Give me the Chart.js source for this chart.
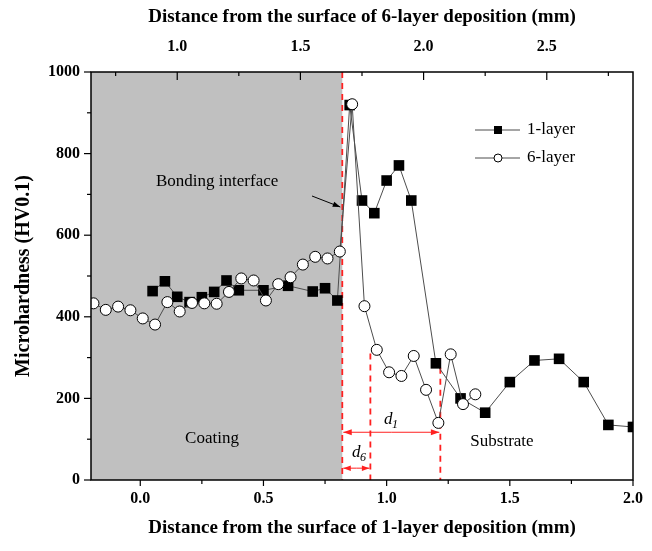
<!DOCTYPE html>
<html>
<head>
<meta charset="utf-8">
<script src="https://cdn.jsdelivr.net/npm/chart.js@4.4.0/dist/chart.umd.min.js"></script>
<style>
  html, body { margin: 0; padding: 0; background: #fff; }
</style>
</head>
<body>
<canvas id="grafico" width="652" height="551"></canvas>
<script>
// --- Datos ---
// 1 capa: distancia desde su superficie (eje inferior, mm) y microdureza
const dist1 = [0.05, 0.10, 0.15, 0.20, 0.25, 0.30, 0.35, 0.40, 0.50, 0.60, 0.70, 0.75, 0.80,
  0.85, 0.90, 0.95, 1.00, 1.05, 1.10, 1.20, 1.30, 1.40, 1.50, 1.60, 1.70, 1.80, 1.90, 2.00];
const hv1 = [463, 487, 449, 436, 448, 461, 489, 465, 465, 476, 462, 470, 440,
  919, 685, 654, 734, 771, 685, 286, 200, 165, 240, 293, 297, 240, 135, 130];

// 6 capas: distancia desde su superficie (eje superior, mm) y microdureza
const dist6 = [0.66, 0.71, 0.76, 0.81, 0.86, 0.91, 0.96, 1.01, 1.06, 1.11, 1.16, 1.21, 1.26, 1.31,
  1.36, 1.41, 1.46, 1.51, 1.56, 1.61, 1.66, 1.71, 1.76, 1.81, 1.86, 1.91, 1.96, 2.01, 2.06, 2.11,
  2.16, 2.21];
const hv6 = [433, 417, 425, 416, 396, 381, 436, 413, 434, 433, 432, 461, 494, 489,
  440, 480, 497, 528, 547, 543, 560, 921, 426, 319, 264, 255, 304, 221, 140, 308,
  186, 210];

const ticksInf = [0.0, 0.5, 1.0, 1.5, 2.0];
const ticksSup = [1.0, 1.5, 2.0, 2.5];
const ticksY = [0, 200, 400, 600, 800, 1000];

// Interfase y límites de d6 / d1 (eje inferior, mm)
const interfaz = 0.82;
const finD6 = 0.934;
const finD1 = 1.218;

const fuente = 'Liberation Serif';

function flecha(ctx, x0, y0, x1, y1, tam) {
  const ang = Math.atan2(y1 - y0, x1 - x0);
  ctx.beginPath();
  ctx.moveTo(x0, y0);
  ctx.lineTo(x1, y1);
  ctx.stroke();
  ctx.beginPath();
  ctx.moveTo(x1, y1);
  ctx.lineTo(x1 - tam * Math.cos(ang - 0.35), y1 - tam * Math.sin(ang - 0.35));
  ctx.lineTo(x1 - tam * Math.cos(ang + 0.35), y1 - tam * Math.sin(ang + 0.35));
  ctx.closePath();
  ctx.fill();
}

function textoD(ctx, x, y, sub) {
  ctx.font = 'italic 17px "' + fuente + '"';
  ctx.textAlign = 'left';
  ctx.textBaseline = 'alphabetic';
  ctx.fillText('d', x, y);
  ctx.font = 'italic 12px "' + fuente + '"';
  ctx.fillText(sub, x + 8, y + 4);
}

// --- Fondo gris, líneas rojas, marco, marcas, leyenda y textos ---
const decoracion = {
  id: 'decoracion',
  beforeDatasetsDraw(chart) {
    const { ctx, chartArea: a, scales: { x, y } } = chart;
    const xi = x.getPixelForValue(interfaz);
    const y0 = y.getPixelForValue(0);
    ctx.save();
    ctx.fillStyle = '#c0c0c0';
    ctx.fillRect(a.left, a.top, xi - a.left, a.bottom - a.top);

    ctx.strokeStyle = '#ff2020';
    ctx.lineWidth = 1.8;
    ctx.setLineDash([6, 5]);
    const verticales = [[interfaz, 1000], [finD6, 310], [finD1, 275]];
    verticales.forEach(([v, alto]) => {
      const px = x.getPixelForValue(v);
      ctx.beginPath();
      ctx.moveTo(px, y.getPixelForValue(alto));
      ctx.lineTo(px, y0);
      ctx.stroke();
    });
    ctx.setLineDash([]);

    // flechas d1 y d6
    ctx.fillStyle = '#ff2020';
    ctx.lineWidth = 1;
    const xd6 = x.getPixelForValue(finD6);
    const xd1 = x.getPixelForValue(finD1);
    const yd1 = y.getPixelForValue(117);
    const yd6 = y.getPixelForValue(29);
    const mid1 = (xi + xd1) / 2, mid6 = (xi + xd6) / 2;
    flecha(ctx, mid1, yd1, xi + 1, yd1, 9);
    flecha(ctx, mid1, yd1, xd1 - 1, yd1, 9);
    flecha(ctx, mid6, yd6, xi + 1, yd6, 8);
    flecha(ctx, mid6, yd6, xd6 - 1, yd6, 8);
    ctx.restore();
  },
  afterDraw(chart) {
    const { ctx, chartArea: a, scales: { x, xTop, y } } = chart;
    ctx.save();
    ctx.strokeStyle = '#000';
    ctx.lineWidth = 1.5;
    ctx.strokeRect(a.left, a.top, a.right - a.left, a.bottom - a.top);

    ctx.lineWidth = 1.2;
    const marca = (x0, y0, x1, y1) => {
      ctx.beginPath(); ctx.moveTo(x0, y0); ctx.lineTo(x1, y1); ctx.stroke();
    };
    for (let v = 0; v <= 2.0001; v += 0.25) {
      const px = x.getPixelForValue(v);
      const largo = Math.abs(v * 2 - Math.round(v * 2)) < 1e-6 ? 6 : 4;
      marca(px, a.bottom, px, a.bottom + largo);
    }
    for (let v = 0.75; v <= 2.8; v += 0.25) {
      const px = xTop.getPixelForValue(v);
      const largo = Math.abs(v * 2 - Math.round(v * 2)) < 1e-6 ? 8 : 4;
      marca(px, a.top, px, a.top + largo);
    }
    for (let v = 0; v <= 1000; v += 100) {
      const py = y.getPixelForValue(v);
      const largo = v % 200 === 0 ? 7 : 4;
      marca(a.left - largo, py, a.left, py);
    }

    // leyenda
    ctx.strokeStyle = '#4d4d4d';
    ctx.lineWidth = 1;
    const lx = 475, ly1 = 130, ly2 = 158;
    marca(lx, ly1, lx + 45, ly1);
    marca(lx, ly2, lx + 45, ly2);
    ctx.fillStyle = '#000';
    ctx.fillRect(lx + 19, ly1 - 4, 8, 8);
    ctx.beginPath();
    ctx.arc(lx + 23, ly2, 4, 0, Math.PI * 2);
    ctx.fillStyle = '#fff';
    ctx.fill();
    ctx.strokeStyle = '#000';
    ctx.stroke();
    ctx.fillStyle = '#000';
    ctx.font = '17px "' + fuente + '"';
    ctx.textAlign = 'left';
    ctx.textBaseline = 'middle';
    ctx.fillText('1-layer', lx + 52, ly1);
    ctx.fillText('6-layer', lx + 52, ly2);

    // textos de zonas
    ctx.textAlign = 'center';
    ctx.fillText('Coating', 212, 439);
    ctx.fillText('Substrate', 502, 442);
    ctx.textAlign = 'left';
    ctx.fillText('Bonding interface', 156, 182);
    ctx.lineWidth = 1;
    flecha(ctx, 312, 196, x.getPixelForValue(interfaz) - 2, 207, 8);

    textoD(ctx, 384, 424, '1');
    textoD(ctx, 352, 457, '6');
    ctx.restore();
  }
};

const tituloFuente = { family: fuente, size: 19, weight: 'bold' };
const tickFuente = { family: fuente, size: 16, weight: 'bold' };

new Chart(document.getElementById('grafico'), {
  type: 'scatter',
  data: {
    datasets: [
      {
        label: '6-layer',
        xAxisID: 'xTop',
        data: dist6.map((d, i) => ({ x: d, y: hv6[i] })),
        showLine: true,
        borderColor: '#4d4d4d',
        borderWidth: 1,
        pointStyle: 'circle',
        pointRadius: 5.5,
        pointBackgroundColor: '#fff',
        pointBorderColor: '#000',
        pointBorderWidth: 1,
        order: 0
      },
      {
        label: '1-layer',
        xAxisID: 'x',
        data: dist1.map((d, i) => ({ x: d, y: hv1[i] })),
        showLine: true,
        borderColor: '#4d4d4d',
        borderWidth: 1,
        pointStyle: 'rect',
        pointRadius: 7.5,
        pointBackgroundColor: '#000',
        pointBorderColor: '#000',
        pointBorderWidth: 0,
        order: 1
      }
    ]
  },
  options: {
    responsive: false,
    animation: false,
    devicePixelRatio: 1,
    layout: { padding: { right: 12 } },
    plugins: { legend: { display: false }, tooltip: { enabled: false } },
    scales: {
      x: {
        type: 'linear', position: 'bottom', min: -0.2, max: 2.0,
        grid: { display: false, drawTicks: false },
        border: { display: false },
        afterBuildTicks: s => { s.ticks = ticksInf.map(v => ({ value: v })); },
        afterFit: s => { s.height = 71; },
        ticks: { font: tickFuente, color: '#000', padding: 9, maxRotation: 0,
                 callback: v => v.toFixed(1) },
        title: { display: true, text: 'Distance from the surface of 1-layer deposition (mm)',
                 font: tituloFuente, color: '#000', padding: { bottom: 12 } }
      },
      xTop: {
        type: 'linear', position: 'top', min: 0.65, max: 2.85,
        grid: { display: false, drawTicks: false },
        border: { display: false },
        afterBuildTicks: s => { s.ticks = ticksSup.map(v => ({ value: v })); },
        afterFit: s => { s.height = 72; },
        ticks: { font: tickFuente, color: '#000', padding: 16, maxRotation: 0,
                 callback: v => v.toFixed(1) },
        title: { display: true, text: 'Distance from the surface of 6-layer deposition (mm)',
                 font: tituloFuente, color: '#000', padding: { top: 6 } }
      },
      y: {
        type: 'linear', min: 0, max: 1000,
        grid: { display: false, drawTicks: false },
        border: { display: false },
        afterBuildTicks: s => { s.ticks = ticksY.map(v => ({ value: v })); },
        afterFit: s => { s.width = 91; },
        ticks: { font: tickFuente, color: '#000', padding: 11, callback: v => String(v) },
        title: { display: true, text: 'Microhardness (HV0.1)',
                 font: { family: fuente, size: 20, weight: 'bold' }, color: '#000',
                 padding: { top: 12, bottom: 0 } }
      }
    }
  },
  plugins: [decoracion]
});
</script>
</body>
</html>
